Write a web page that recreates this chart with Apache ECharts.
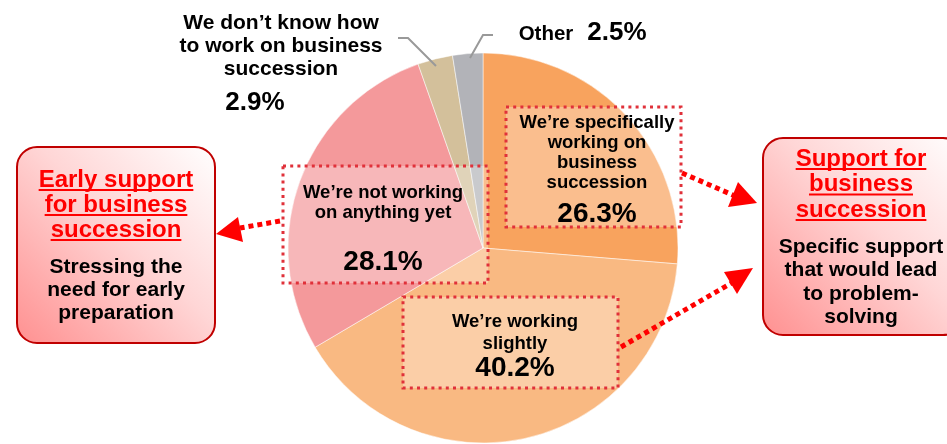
<!DOCTYPE html>
<html><head><meta charset="utf-8">
<script src="https://cdn.jsdelivr.net/npm/echarts@6/dist/echarts.min.js"></script>
<style>html,body{margin:0;padding:0;background:#fff}#c{width:947px;height:444px}</style>
</head><body><div id="c"></div>
<script>
const categories = ["We’re specifically working on business succession", "We’re working slightly", "We’re not working on anything yet", "We don’t know how to work on business succession", "Other"];
const values = [26.3, 40.2, 28.1, 2.9, 2.5];
const leftTitle = ["Early support", "for business", "succession"];
const leftBody = ["Stressing the", "need for early", "preparation"];
const rightTitle = ["Support for", "business", "succession"];
const rightBody = ["Specific support", "that would lead", "to problem-", "solving"];

const FF = '"Liberation Sans", Arial, sans-serif';
const pct = v => v.toFixed(1) + '%';
const cv = document.createElement('canvas').getContext('2d');
function tw(t, font){ cv.font = font; return cv.measureText(t).width; }

const G = [];
function txt(t, x, y, size, color){
  G.push({type:'text', z:100, style:{text:t, x:x, y:y, font:'bold '+size+'px '+FF, fill:color||'#000', align:'center', verticalAlign:'middle'}});
}
function lines(arr, x, y0, dy, size, color, underline){
  arr.forEach((t,i)=>{
    const y = y0 + i*dy;
    txt(t, x, y, size, color);
    if(underline){
      const w = tw(t, 'bold '+size+'px '+FF);
      G.push({type:'line', z:100, shape:{x1:x-w/2, y1:y+size*0.42, x2:x+w/2, y2:y+size*0.42}, style:{stroke:color, lineWidth:2}});
    }
  });
}
function dotBox(x,y,w,h){
  G.push({type:'rect', z:90, shape:{x:x,y:y,width:w,height:h}, style:{fill:'rgba(255,255,255,0.3)', stroke:'#E0313A', lineWidth:3, lineDash:[3,4.2]}});
}
function arrow(x1,y1,x2,y2,tri){
  G.push({type:'line', z:95, shape:{x1:x1,y1:y1,x2:x2,y2:y2}, style:{stroke:'#FF0000', lineWidth:5, lineDash:[5,4]}});
  G.push({type:'polygon', z:95, shape:{points:tri}, style:{fill:'#FF0000'}});
}
function callout(x,y,w,h){
  G.push({type:'rect', z:80, shape:{x:x,y:y,width:w,height:h,r:20}, style:{
    fill:new echarts.graphic.LinearGradient(0,1,1,0,[{offset:0,color:'#FF9090'},{offset:0.55,color:'#FFD6D6'},{offset:1,color:'#FFFFFF'}]),
    stroke:'#C00000', lineWidth:2}});
}

// slice annotation boxes
dotBox(506,107,175,120);
lines(["We’re specifically","working on","business","succession"], 597, 123, 20, 18.5);
txt(pct(values[0]), 597, 214, 28);

dotBox(283,166,205,117);
lines(["We’re not working","on anything yet"], 383, 193, 20, 18.5);
txt(pct(values[2]), 383, 262, 28);

dotBox(403,297,215,91);
lines(["We’re working","slightly"], 515, 322, 22, 18.5);
txt(pct(values[1]), 515, 368, 28);

// outside labels
lines(["We don’t know how","to work on business","succession"], 281, 23, 23, 21);
txt(pct(values[3]), 255, 103, 26);
G.push({type:'polyline', z:95, shape:{points:[[398,38],[408,38],[436,66]]}, style:{stroke:'#999', lineWidth:2, fill:null}});
G.push({type:'text', z:100, style:{text:'Other', x:546, y:34, font:'bold 20.5px '+FF, fill:'#000', align:'center', verticalAlign:'middle'}});
txt(pct(values[4]), 617, 33, 26);
G.push({type:'polyline', z:95, shape:{points:[[493,35],[483,35],[470,58]]}, style:{stroke:'#999', lineWidth:2, fill:null}});

// callouts
callout(17,147,198,196);
lines(leftTitle, 116, 180, 25, 24, '#FF0000', true);
lines(leftBody, 116, 267, 23, 21, '#000');

callout(763,138,200,197);
lines(rightTitle, 861, 159, 25.5, 24, '#FF0000', true);
lines(rightBody, 861, 247, 23.5, 21, '#000');

// arrows
arrow(280,221,240,228,[[216,234],[238,217],[243,242]]);
arrow(682,173,735,196,[[738,182],[757,203],[728,207]]);
arrow(621,347,735,281,[[724,272],[753,268],[737,294]]);

const chart = echarts.init(document.getElementById('c'), null, {renderer:'canvas'});
chart.setOption({
  animation:false,
  backgroundColor:'#ffffff',
  series:[{
    type:'pie', silent:true, center:[483,248], radius:195, startAngle:90, clockwise:true,
    label:{show:false}, labelLine:{show:false},
    itemStyle:{borderColor:'#ffffff', borderWidth:0.5},
    data: categories.map((c,i)=>({name:c, value:values[i]})),
    color:['#F8A35E','#F9B982','#F4999B','#D3C09B','#B2B3B8']
  }],
  graphic: G
});
</script></body></html>
